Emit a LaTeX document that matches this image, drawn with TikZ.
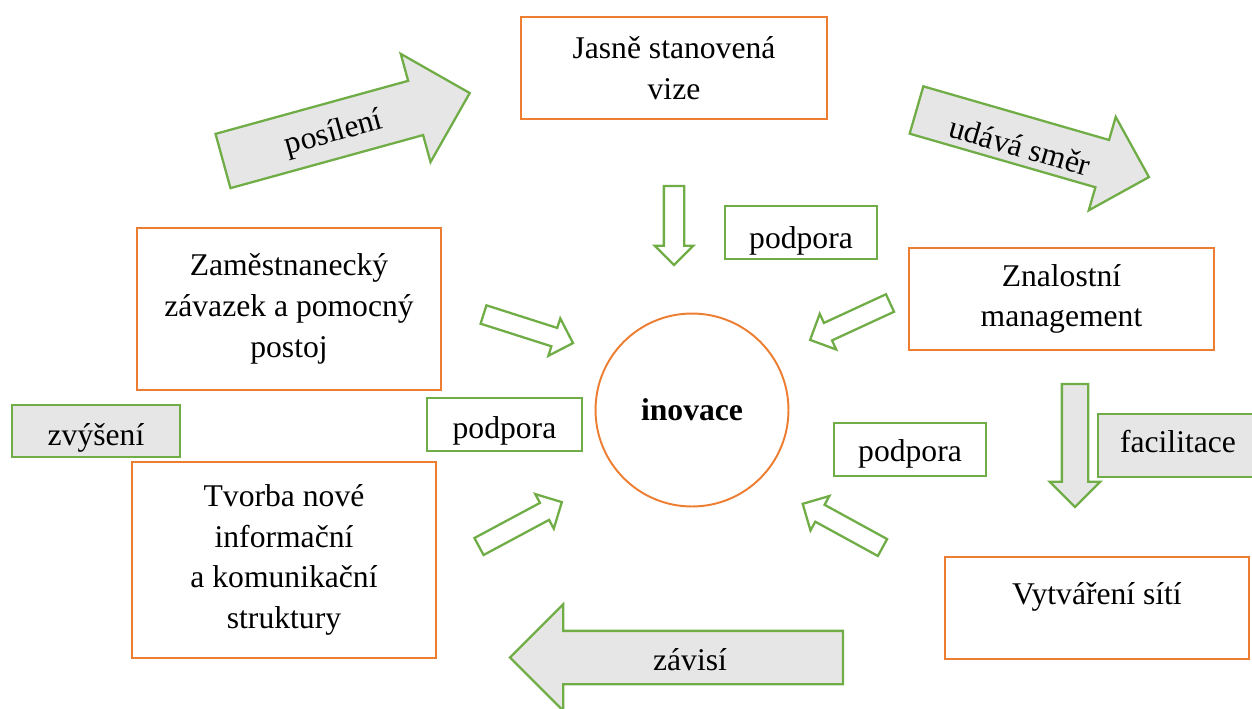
\documentclass[tikz,border=0pt]{standalone}
\usepackage{fontspec}
\setmainfont{Liberation Serif}
\usetikzlibrary{shapes.arrows}
\definecolor{boxorange}{HTML}{ED7D31}
\definecolor{boxgreen}{HTML}{70AD47}
\definecolor{boxgray}{HTML}{E7E6E6}

\begin{document}
\begin{tikzpicture}[x=0.02cm,y=-0.02cm,
    every node/.style={font=\fontsize{18}{23.2}\selectfont},
    obox/.style={draw=boxorange,line width=1.1pt,minimum width=6.08cm,minimum height=2.04cm,align=center},
    gbox/.style={draw=boxgreen,line width=1.4pt,minimum width=3.04cm,minimum height=1.06cm,text height=16pt,text depth=0pt},
    barrow/.style={single arrow,draw=boxgreen,line width=1.3pt,fill=boxgray,anchor=tail,outer sep=0pt,inner xsep=0pt},
    sarrow/.style={single arrow,draw=boxgreen,line width=1.3pt,fill=white,anchor=tail,outer sep=0pt,inner xsep=0pt,inner ysep=0.17cm,single arrow head extend=0.2cm}]
    \useasboundingbox (0,0) rectangle (1252,708);
    \clip (0,0) rectangle (1252,708);

    % boxes
    \node[obox,minimum width=6.12cm] (vize) at (674,68) {Jasně stanovená\\vize};
    \node[obox,minimum height=3.24cm] (zamest) at (289,309) {Zaměstnanecký\\závazek a pomocný\\postoj};
    \node[obox,minimum width=6.1cm] (znalost) at (1061.5,299) {Znalostní\\management};
    \node[obox,minimum height=3.92cm] (tvorba) at (284,560) {Tvorba nové\\informační\\a komunikační\\struktury};
    \node[obox,text depth=17pt] (site) at (1097,608) {Vytváření sítí};
    \node[circle,draw=boxorange,line width=1.1pt,minimum size=3.86cm,font=\bfseries\fontsize{18}{23.2}\selectfont] (inovace) at (692,410) {inovace};

    \node[gbox,text height=18pt] (podporaA) at (801,232.5) {podpora};
    \node[gbox,minimum width=3.1cm] (podporaB) at (504.5,424.5) {podpora};
    \node[gbox,text height=14pt] (podporaC) at (910,449.5) {podpora};
    \node[gbox,fill=boxgray,minimum width=3.36cm,minimum height=1.04cm] (zvyseni) at (96,431) {zvýšení};

    % big arrows
    \node[barrow,rotate=15.4,minimum height=5.12cm,inner ysep=0.54cm,single arrow head extend=0.56cm] (posileni) at (223,161) {};
    \node[rotate=15.4] (tposileni) at (334,134) {posílení};
    \node[barrow,rotate=-16.1,minimum height=4.84cm,inner ysep=0.47cm,single arrow head extend=0.48cm] (smer) at (916.5,110) {};
    \node[rotate=-16.1] (tsmer) at (1020,146) {udává směr};
    \node[barrow,rotate=180,minimum height=6.66cm,inner ysep=0.51cm,single arrow head extend=0.53cm] (zavisi) at (843,657.5) {};
    \node (tzavisi) at (690,660) {závisí};
    \node[barrow,rotate=-90,minimum height=2.46cm,inner ysep=0.24cm,single arrow head extend=0.24cm] (facilsip) at (1075,384) {};
    \node[gbox,fill=boxgray,minimum width=3.2cm,minimum height=1.26cm,text height=12pt,text depth=3.5pt] (facilitace) at (1178,445.5) {facilitace};

    % small arrows
    \node[sarrow,rotate=-90,minimum height=1.58cm,inner ysep=0.18cm,single arrow head extend=0.18cm] (sipvize) at (674,186) {};
    \node[sarrow,rotate=-17.7,minimum height=1.88cm] (sipzamest) at (483.5,314.5) {};
    \node[sarrow,rotate=204.8,minimum height=1.76cm] (sipznalost) at (890,303) {};
    \node[sarrow,rotate=28.2,minimum height=1.88cm] (siptvorba) at (479,546.5) {};
    \node[sarrow,rotate=151.3,minimum height=1.82cm] (sipsite) at (882.5,547.5) {};
\end{tikzpicture}
\end{document}
